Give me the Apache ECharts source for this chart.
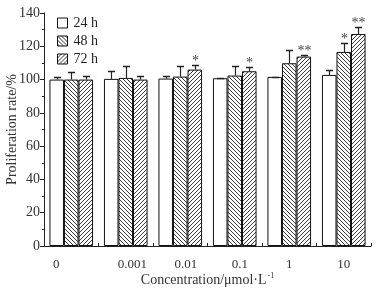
<!DOCTYPE html>
<html>
<head>
<meta charset="utf-8">
<script src="https://cdn.jsdelivr.net/npm/echarts@6/dist/echarts.min.js"></script>
<style>
  html, body { margin: 0; padding: 0; background: #fff; }
  #chart { width: 384px; height: 291px; }
</style>
</head>
<body>
<div id="chart"></div>
<script>
// 数据
var categories = ['0', '0.001', '0.01', '0.1', '1', '10'];
var seriesNames = ['24 h', '48 h', '72 h'];
var mean24 = [100, 100.4, 100.6, 100.8, 101.6, 102.8];
var mean48 = [100, 101, 101.8, 102.4, 109.8, 116.6];
var mean72 = [100, 100, 106, 105, 113.8, 127.4];
var err24 = [101.4, 105, 102.2, 101.2, 101.8, 105.8];
var err48 = [104.4, 108.2, 108.2, 108.4, 117.8, 122.2];
var err72 = [102.4, 102.4, 109, 107.6, 115, 131.8];
var sig24 = ['', '', '', '', '', ''];
var sig48 = ['', '', '', '', '', '*'];
var sig72 = ['', '', '*', '*', '**', '**'];
var yTicks = [0, 20, 40, 60, 80, 100, 120, 140];

var FONT = 'Liberation Serif';

// 斜线填充
function makeHatch(dir) {
  var c = document.createElement('canvas');
  c.width = 4; c.height = 4;
  var ctx = c.getContext('2d');
  ctx.fillStyle = '#fff';
  ctx.fillRect(0, 0, 4, 4);
  ctx.strokeStyle = '#3a3a3a';
  ctx.lineWidth = 1;
  for (var k = -4; k <= 4; k += 4) {
    ctx.beginPath();
    if (dir > 0) { // "/"
      ctx.moveTo(k, 4); ctx.lineTo(k + 4, 0);
    } else { // "\"
      ctx.moveTo(k, 0); ctx.lineTo(k + 4, 4);
    }
    ctx.stroke();
  }
  return c;
}
var fills = ['#fff', { image: makeHatch(-1), repeat: 'repeat' }, { image: makeHatch(1), repeat: 'repeat' }];
var means = [mean24, mean48, mean72];
var errs = [err24, err48, err72];
var sigs = [sig24, sig48, sig72];

// x轴标签位置微调
var labelPad = [[0, 30, 0, 0], [0, 0, 0, 13], [0, 0, 0, 11], [0, 0, 0, 10], [0, 0, 0, 0], [0, 0, 0, 0]];

function errRender(si) {
  return function (params, api) {
    var i = api.value(0);
    var base = api.coord([i, api.value(1)]);
    var top = api.coord([i, api.value(2)]);
    var band = api.size([1, 0])[0];
    var bw = band * 0.8 / 3;
    var cx = Math.round(base[0] + (si - 1) * bw) + 0.5;
    var ty = Math.round(top[1]) + 0.5;
    var star = sigs[si][i];
    var children = [
      { type: 'line', shape: { x1: cx, y1: base[1], x2: cx, y2: ty }, style: { stroke: '#222', lineWidth: 1.2 } },
      { type: 'line', shape: { x1: cx - 3.5, y1: ty, x2: cx + 3.5, y2: ty }, style: { stroke: '#222', lineWidth: 1.5 } }
    ];
    if (star) {
      children.push({
        type: 'text',
        style: { text: star, x: cx, y: ty + 3, textAlign: 'center', textVerticalAlign: 'bottom', fill: '#444', font: '14px "' + FONT + '"' }
      });
    }
    return { type: 'group', children: children };
  };
}

var series = [];
for (var s = 0; s < 3; s++) {
  series.push({
    name: seriesNames[s],
    type: 'bar',
    data: means[s],
    barGap: 0,
    barCategoryGap: '20%',
    itemStyle: { color: fills[s], borderColor: '#111', borderWidth: 1 }
  });
}
for (var s2 = 0; s2 < 3; s2++) {
  series.push({
    type: 'custom',
    renderItem: errRender(s2),
    data: means[s2].map(function (v, i) { return [i, v, errs[s2][i]]; }),
    encode: { x: 0, y: [1, 2] },
    z: 3,
    silent: true
  });
}

var chart = echarts.init(document.getElementById('chart'));
chart.setOption({
  animation: false,
  textStyle: { fontFamily: FONT },
  grid: { left: 44, right: 13, top: 13, bottom: 45, outerBoundsMode: 'none', containLabel: false },
  legend: {
    data: seriesNames.map(function (n, i) { return { name: n, itemStyle: { color: fills[i], borderColor: '#111', borderWidth: 1 } }; }),
    orient: 'vertical',
    left: 52,
    top: 11,
    itemWidth: 10,
    itemHeight: 10,
    itemGap: 4,
    icon: 'rect',
    textStyle: { fontFamily: FONT, fontSize: 14, color: '#222', padding: [0, 0, 0, 1] }
  },
  xAxis: {
    type: 'category',
    data: categories.map(function (c, i) { return { value: c, textStyle: { padding: labelPad[i] } }; }),
    axisLine: { lineStyle: { color: '#222', width: 1 } },
    axisTick: { show: true, inside: true, length: 3, lineStyle: { color: '#222' } },
    axisLabel: { fontFamily: FONT, fontSize: 13, color: '#333', margin: 12 },
    name: '{a|Concentration/μmol·L}{s|-1}',
    nameLocation: 'middle',
    nameGap: 26,
    nameMoveOverlap: false,
    nameTextStyle: {
      rich: {
        a: { fontFamily: FONT, fontSize: 14, color: '#333' },
        s: { fontFamily: FONT, fontSize: 8, color: '#333', verticalAlign: 'top', padding: [0, 0, 8, 1] }
      }
    }
  },
  yAxis: {
    type: 'value',
    min: yTicks[0],
    max: yTicks[yTicks.length - 1],
    interval: 20,
    splitLine: { show: false },
    axisLine: { show: true, lineStyle: { color: '#222', width: 1 } },
    axisTick: { show: true, length: 4, lineStyle: { color: '#222' } },
    minorTick: { show: true, splitNumber: 2, length: 2, lineStyle: { color: '#222' } },
    axisLabel: { fontFamily: FONT, fontSize: 14, color: '#333', margin: 4 },
    name: 'Proliferation rate/%',
    nameLocation: 'middle',
    nameGap: 25,
    nameMoveOverlap: false,
    nameTextStyle: { fontFamily: FONT, fontSize: 14, color: '#333' }
  },
  series: series
});
</script>
</body>
</html>
